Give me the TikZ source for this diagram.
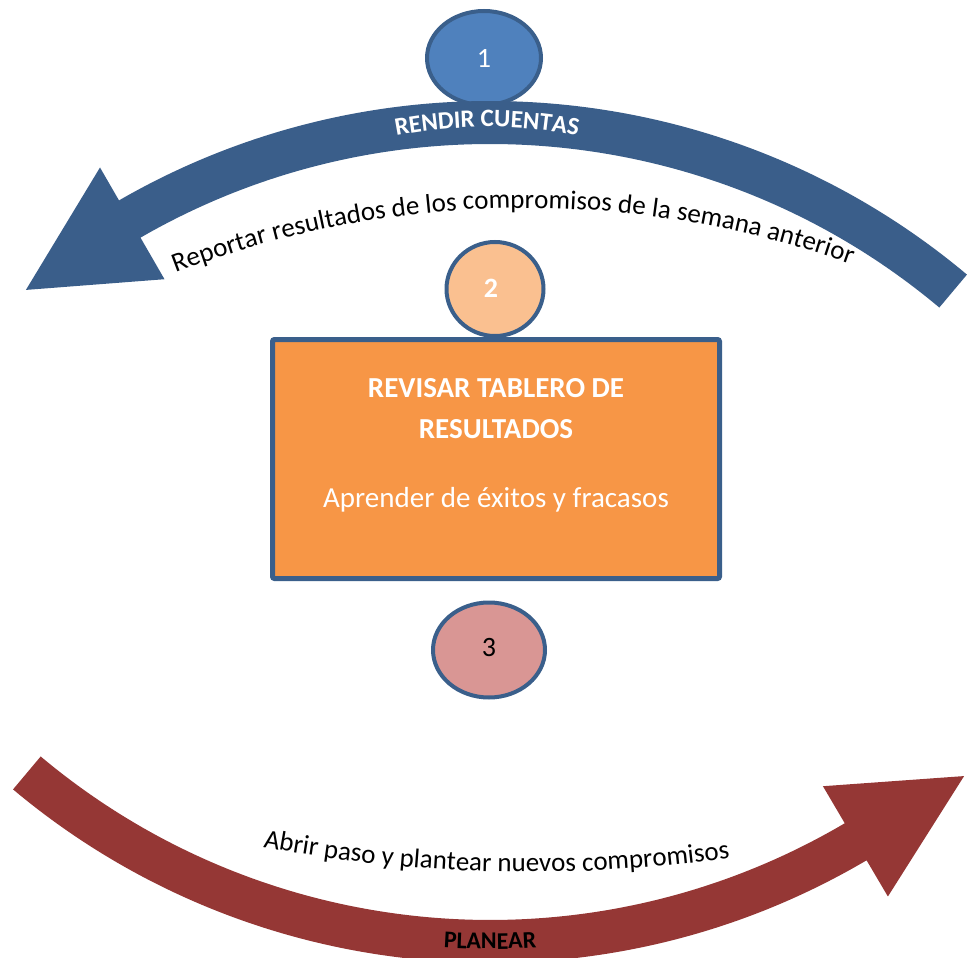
\documentclass[tikz,border=0pt]{standalone}
\usepackage{fontspec}
\setmainfont{Carlito}
\usetikzlibrary{decorations.text,shapes.geometric}
\definecolor{bandblue}{HTML}{3A5E8A}
\definecolor{edgeblue}{HTML}{3A5F8B}
\definecolor{fillone}{HTML}{4F81BD}
\definecolor{filltwo}{HTML}{FAC090}
\definecolor{fillbox}{HTML}{F79646}
\definecolor{fillthree}{HTML}{D99694}
\definecolor{bandred}{HTML}{953735}
\begin{document}
\begin{tikzpicture}[x=1pt,y=1pt,
  numshape/.style={ellipse, draw=edgeblue, line width=4pt, inner sep=0pt},
  boxshape/.style={rectangle, draw=edgeblue, fill=fillbox, line width=5pt, rounded corners=2pt, inner sep=0pt},
  boxtitle/.style={anchor=base, text=white, font=\fontsize{29}{29}\selectfont\bfseries},
  boxsub/.style={anchor=base, text=white, font=\fontsize{29}{29}\selectfont}]
\useasboundingbox (0,0) rectangle (970,-958);
\clip (0,0) rectangle (970,-958);

% circle 1
\node[numshape, fill=fillone, minimum width=114, minimum height=94] (c1) at (484,-58) {};
\node[text=white, font=\fontsize{28}{28}\selectfont] (n1) at (484,-58) {1};

% top blue band
\begin{scope}[shift={(490,-843)}]
\fill[bandblue] (50:742) arc[start angle=50, end angle=120, radius=742]
  -- (120:780) -- (130:722) -- (120:651) -- (120:699)
  arc[start angle=120, end angle=50, radius=699] -- cycle;
\end{scope}

\begin{scope}[shift={(487,-607)}]
\path[decorate, decoration={text along path, text align=center,
  text={|\fontsize{25}{25}\selectfont\bfseries\color{white}|RENDIR CUENTAS}}]
  (110:480) arc[start angle=110, end angle=70, radius=480];
\end{scope}

\begin{scope}[shift={(525,-1182)}]
\path[decorate, decoration={text along path, text align=center,
  text={|\fontsize{27}{27}\selectfont\color{black}|Reportar resultados de los compromisos de la semana anterior}}]
  (115:974) arc[start angle=115, end angle=66.5, radius=974];
\end{scope}

% circle 2
\node[numshape, fill=filltwo, minimum width=97, minimum height=94] (c2) at (495,-289) {};
\node[text=white, font=\fontsize{28}{28}\selectfont\bfseries] (n2) at (491,-288) {2};

% box
\node[boxshape, minimum width=447, minimum height=239] (box) at (496,-459) {};
\node[boxtitle] (t1) at (496,-397) {REVISAR TABLERO DE};
\node[boxtitle] (t2) at (496,-438) {RESULTADOS};
\node[boxsub] (t3) at (496,-507) {Aprender de éxitos y fracasos};

% circle 3
\node[numshape, fill=fillthree, minimum width=112, minimum height=95] (c3) at (489,-650) {};
\node[text=black, font=\fontsize{28}{28}\selectfont] (n3) at (489,-648) {3};

% bottom red band
\begin{scope}[shift={(490,-221)}]
\fill[bandred] (-130:742) arc[start angle=-130, end angle=-59.5, radius=742]
  -- (-59.5:784) -- (-49.5:730) -- (-59.5:656) -- (-59.5:699)
  arc[start angle=-59.5, end angle=-130, radius=699] -- cycle;
\path[decorate, decoration={text along path, text align=center,
  text={|\fontsize{24}{24}\selectfont\bfseries\color{black}|PLANEAR}}]
  (-100:728) arc[start angle=-100, end angle=-80, radius=728];
\end{scope}

\begin{scope}[shift={(530,574)}]
\path[decorate, decoration={text along path, text align=center,
  text={|\fontsize{27}{27}\selectfont\color{black}|Abrir paso y plantear nuevos compromisos}}]
  (-101:1446) arc[start angle=-101, end angle=-81.7, radius=1446];
\end{scope}
\end{tikzpicture}
\end{document}
